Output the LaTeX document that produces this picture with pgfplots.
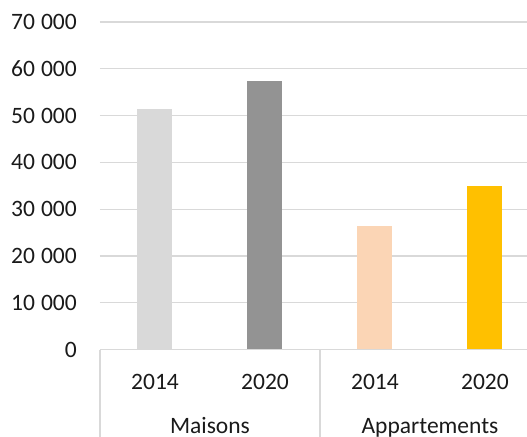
\documentclass[border=0pt]{standalone}
\usepackage{fontspec}
\setmainfont{Carlito}
\usepackage{pgfplots}
\pgfplotsset{compat=1.18}
\definecolor{gridgray}{HTML}{D9D9D9}
\definecolor{barlight}{HTML}{D9D9D9}
\definecolor{bardark}{HTML}{939393}
\definecolor{barpeach}{HTML}{FBD5B5}
\definecolor{bargold}{HTML}{FFC000}
\definecolor{txt}{HTML}{1A1A1A}
\newcommand{\ts}{\hspace{0.26em}}
\begin{document}
\fontsize{23.5bp}{28bp}\selectfont
\begin{tikzpicture}
\begin{axis}[
  scale only axis,
  width=427bp, height=327.6bp,
  xmin=-0.5, xmax=3.382,
  ymin=0, ymax=70000,
  scaled y ticks=false,
  ybar, bar width=35bp, bar shift=0pt,
  xtick={0,1,2,3},
  xticklabels={2014,2020,2014,2020},
  ytick={0,10000,20000,30000,40000,50000,60000,70000},
  yticklabels={0,10\ts000,20\ts000,30\ts000,40\ts000,50\ts000,60\ts000,70\ts000},
  major tick length=0pt,
  axis line style={draw=none},
  ymajorgrids,
  grid style={line width=1.2bp, draw=gridgray},
  yticklabel style={anchor=east, inner sep=0pt, xshift=-23bp, text=txt,
    font=\fontsize{23.5bp}{28bp}\selectfont},
  xticklabel style={anchor=center, inner sep=0pt, yshift=-31.9bp, text=txt,
    font=\fontsize{23.5bp}{28bp}\selectfont},
  clip=false,
]
\addplot[fill=barlight, draw=none] coordinates {(0,51400)};
\addplot[fill=bardark, draw=none] coordinates {(1,57400)};
\addplot[fill=barpeach, draw=none] coordinates {(2,26400)};
\addplot[fill=bargold, draw=none] coordinates {(3,35000)};
% category axis
\draw[gridgray, line width=1.2bp] (axis cs:-0.5,0) -- (axis cs:3.382,0);
\draw[gridgray, line width=1.2bp] (axis cs:-0.5,0) -- ([yshift=-90bp]axis cs:-0.5,0);
\draw[gridgray, line width=1.2bp] (axis cs:1.5,0) -- ([yshift=-90bp]axis cs:1.5,0);
\node[text=txt, anchor=base] at ([yshift=-84bp]axis cs:0.5,0) {Maisons};
\node[text=txt, anchor=base] at ([yshift=-84bp]axis cs:2.5,0) {Appartements};
\end{axis}
\pgfresetboundingbox
\path[use as bounding box] (-100bp,-87.4bp) rectangle (427bp,349.6bp);
\end{tikzpicture}
\end{document}
